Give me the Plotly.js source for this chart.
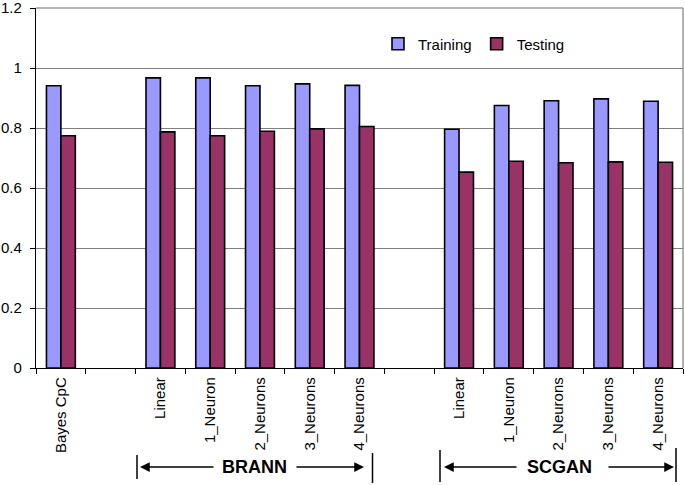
<!DOCTYPE html>
<html>
<head>
<meta charset="utf-8">
<script src="https://cdn.plot.ly/plotly-3.0.1.min.js"></script>
<style>html,body{margin:0;padding:0;background:#fff;}#chart{width:685px;height:485px;}</style>
</head>
<body>
<div id="chart"></div>
<script>
// Category slots (empty strings are the spacer slots between groups)
const tickLabels = ["Bayes CpC", "", "Linear", "1_Neuron", "2_Neurons", "3_Neurons", "4_Neurons",
                    "", "Linear", "1_Neuron", "2_Neurons", "3_Neurons", "4_Neurons"];
const training = [0.941, null, 0.967, 0.967, 0.941, 0.947, 0.942,
                  null, 0.796, 0.875, 0.891, 0.897, 0.889];
const testing  = [0.774, null, 0.787, 0.774, 0.789, 0.797, 0.805,
                  null, 0.653, 0.689, 0.684, 0.687, 0.686];
const yTicks = [0, 0.2, 0.4, 0.6, 0.8, 1, 1.2];
const yTickText = ["0", "0.2", "0.4", "0.6", "0.8", "1", "1.2"];
const groupNames = ["BRANN", "SCGAN"];

const xs = tickLabels.map((_, i) => i);
const boundaries = tickLabels.map((_, i) => i - 0.5).concat([tickLabels.length - 0.5]);
const FONT = "Liberation Sans, Arial, sans-serif";

const traces = [
  {type: "bar", name: "Training", x: xs, y: training,
   marker: {color: "#9999FF", line: {color: "#000000", width: 1.6}}},
  {type: "bar", name: "Testing", x: xs, y: testing,
   marker: {color: "#993366", line: {color: "#000000", width: 1.6}}},
  {type: "scatter", x: [], y: [], xaxis: "x2", showlegend: false, hoverinfo: "skip"}
];

// pixel helpers for the decorations under the axis
const L = 36, R = 2, T = 8, B = 117, W = 685, H = 485;
const pw = W - L - R, ph = H - T - B;
const px = v => (v - L) / pw;
const py = v => (H - B - v) / ph;

const shapes = [
  {type: "line", xref: "paper", yref: "paper", x0: 0, x1: 1, y0: 1, y1: 1,
   line: {color: "#6f6f6f", width: 1.2}, layer: "below"},
  {type: "line", xref: "paper", yref: "paper", x0: 1, x1: 1, y0: 0, y1: 1,
   line: {color: "#808080", width: 1.2}, layer: "below"},
  // group bracket ends
  {type: "line", xref: "paper", yref: "paper", x0: px(137), x1: px(137), y0: py(455), y1: py(479), line: {color: "#000", width: 1.5}},
  {type: "line", xref: "paper", yref: "paper", x0: px(372.5), x1: px(372.5), y0: py(453), y1: py(483), line: {color: "#000", width: 1.5}},
  {type: "line", xref: "paper", yref: "paper", x0: px(440), x1: px(440), y0: py(450), y1: py(482), line: {color: "#000", width: 1.5}},
  {type: "line", xref: "paper", yref: "paper", x0: px(676), x1: px(676), y0: py(448), y1: py(482), line: {color: "#000", width: 1.5}}
];

const arrow = (headX, tailX, y) => ({
  xref: "paper", yref: "paper", x: px(headX), y: py(y), text: "",
  showarrow: true, arrowhead: 2, arrowsize: 1.3, arrowwidth: 1.5, arrowcolor: "#000",
  ax: tailX - headX, ay: 0, standoff: 0, startstandoff: 0
});

const annotations = [
  arrow(140, 215, 467), arrow(364, 295, 467),
  arrow(444, 518, 467), arrow(674, 607, 467),
  {xref: "paper", yref: "paper", x: px(254.5), y: py(467), text: "<b>" + groupNames[0] + "</b>",
   showarrow: false, font: {family: FONT, size: 18, color: "#000"}, xanchor: "center", yanchor: "middle"},
  {xref: "paper", yref: "paper", x: px(559.5), y: py(467), text: "<b>" + groupNames[1] + "</b>",
   showarrow: false, font: {family: FONT, size: 18, color: "#000"}, xanchor: "center", yanchor: "middle"}
];

const layout = {
  width: W, height: H,
  margin: {l: L, r: R, t: T, b: B, pad: 0},
  paper_bgcolor: "#fff", plot_bgcolor: "#fff",
  font: {family: FONT, size: 15, color: "#000"},
  barmode: "group", bargap: 0.42, bargroupgap: 0,
  showlegend: true,
  legend: {orientation: "h", x: px(378), y: py(44), xanchor: "left", yanchor: "middle",
           bgcolor: "rgba(0,0,0,0)", font: {family: FONT, size: 15, color: "#000"},
           itemclick: false},
  xaxis: {range: [-0.5, tickLabels.length - 0.5], tickmode: "array", tickvals: xs, ticktext: tickLabels,
          tickangle: -90, ticks: "", showgrid: false, zeroline: false,
          showline: true, linecolor: "#000", linewidth: 1.2, fixedrange: true,
          ticklabeloverflow: "allow", ticklabelstandoff: 2,
          tickfont: {family: FONT, size: 15, color: "#000"}},
  xaxis2: {overlaying: "x", anchor: "y", side: "bottom", range: [-0.5, tickLabels.length - 0.5],
           tickmode: "array", tickvals: boundaries, ticks: "outside", ticklen: 5, tickwidth: 1,
           tickcolor: "#000", showticklabels: false, showgrid: false, zeroline: false, showline: false},
  yaxis: {range: [0, 1.2], tickmode: "array", tickvals: yTicks, ticktext: yTickText,
          ticks: "outside", ticklen: 5, tickwidth: 1, ticklabeloverflow: "allow",
          tickcolor: "#000", showgrid: true, gridcolor: "#7f7f7f", gridwidth: 1,
          zeroline: false, showline: true, linecolor: "#000", linewidth: 1.2,
          tickfont: {family: FONT, size: 15, color: "#000"}, ticklabelstandoff: 5},
  shapes: shapes,
  annotations: annotations
};

Plotly.newPlot("chart", traces, layout, {staticPlot: true, displayModeBar: false});
</script>
</body>
</html>
